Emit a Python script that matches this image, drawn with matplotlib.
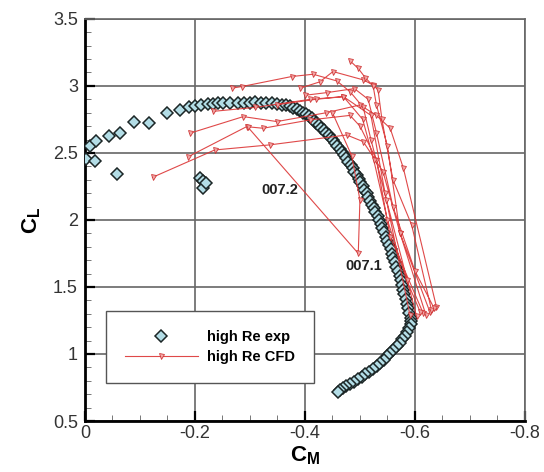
import numpy as np
import matplotlib.pyplot as plt
from matplotlib.ticker import MultipleLocator, FuncFormatter

plt.rcParams['font.family'] = ['Liberation Sans', 'DejaVu Sans']
plt.rcParams['axes.unicode_minus'] = False
plt.rcParams['mathtext.fontset'] = 'custom'
plt.rcParams['mathtext.bf'] = 'Liberation Sans:bold'
plt.rcParams['mathtext.rm'] = 'Liberation Sans'

# --- experiment (high Re exp) ---------------------------------------------
exp_cm = [
    -0.002, -0.009, -0.020, -0.018, -0.044, -0.064, -0.058, -0.090, -0.116,
    -0.150, -0.173, -0.189,
    -0.209, -0.215, -0.215, -0.221,
    -0.200, -0.212, -0.224, -0.233, -0.242, -0.251, -0.264, -0.279, -0.290,
    -0.300, -0.310, -0.320, -0.330, -0.340, -0.350, -0.358,
    -0.365, -0.372, -0.379, -0.385, -0.391, -0.397, -0.402, -0.407, -0.412,
    -0.417, -0.421, -0.426, -0.430, -0.435, -0.439, -0.443, -0.447, -0.451,
    -0.455, -0.459, -0.463, -0.467, -0.471, -0.475, -0.479, -0.483, -0.487,
    -0.490, -0.494, -0.498, -0.501, -0.505, -0.508, -0.512, -0.515, -0.519,
    -0.522, -0.525, -0.528, -0.532, -0.535, -0.538, -0.541, -0.544, -0.547,
    -0.550, -0.553, -0.556, -0.558, -0.561, -0.564, -0.566, -0.569, -0.572,
    -0.574, -0.577, -0.579, -0.581, -0.584, -0.586, -0.588, -0.590, -0.592,
    -0.593,
    -0.592, -0.589, -0.586, -0.582, -0.577, -0.572, -0.567, -0.561, -0.555,
    -0.549, -0.543, -0.537, -0.531, -0.524, -0.517, -0.510, -0.503, -0.496,
    -0.489, -0.482, -0.475, -0.469, -0.464, -0.460,
]
exp_cl = [
    2.457, 2.552, 2.587, 2.443, 2.627, 2.647, 2.343, 2.731, 2.726,
    2.796, 2.821, 2.841,
    2.311, 2.293, 2.237, 2.276,
    2.852, 2.860, 2.865, 2.868, 2.870, 2.872, 2.873, 2.874, 2.875,
    2.876, 2.877, 2.876, 2.874, 2.870, 2.865, 2.860,
    2.855, 2.848, 2.838, 2.828, 2.816, 2.801, 2.787, 2.772, 2.757,
    2.741, 2.724, 2.706, 2.689, 2.671, 2.652, 2.633, 2.613, 2.593,
    2.572, 2.550, 2.528, 2.506, 2.483, 2.459, 2.434, 2.409, 2.385,
    2.360, 2.334, 2.307, 2.281, 2.254, 2.227, 2.199, 2.171, 2.143,
    2.114, 2.086, 2.057, 2.027, 1.998, 1.968, 1.938, 1.907, 1.876,
    1.845, 1.813, 1.781, 1.749, 1.717, 1.684, 1.651, 1.618, 1.584,
    1.550, 1.516, 1.481, 1.446, 1.411, 1.376, 1.340, 1.305, 1.272,
    1.248,
    1.225, 1.195, 1.165, 1.138, 1.110, 1.083, 1.057, 1.031, 1.006,
    0.982, 0.958, 0.934, 0.912, 0.890, 0.868, 0.848, 0.828, 0.810,
    0.793, 0.777, 0.761, 0.745, 0.730, 0.718,
]

# --- CFD (high Re CFD), runs separated by NaN ------------------------------
nan = np.nan
cfd_cm = [
    -0.123, -0.236, -0.336, -0.476, -0.506, -0.542, -0.573, -0.627, nan,
    -0.188, -0.294, -0.324, -0.409, -0.482, -0.500, -0.530, -0.555, -0.615, nan,
    -0.191, -0.288, -0.349, -0.439, -0.500, -0.530, -0.555, -0.579, -0.639, nan,
    -0.267, -0.285, -0.376, -0.415, -0.458, -0.482, -0.506, -0.520, -0.545, -0.603, nan,
    -0.391, -0.427, -0.451, -0.506, -0.524, -0.533, -0.540, -0.560, -0.594, -0.630, nan,
    -0.482, -0.497, -0.510, -0.524, -0.530, -0.550, -0.573, -0.620, nan,
    -0.400, -0.440, -0.490, -0.515, -0.530, -0.560, -0.600, -0.635, nan,
    -0.350, -0.420, -0.470, -0.505, -0.525, -0.550, -0.585, -0.610, nan,
    -0.296, -0.497, -0.500, -0.485, -0.450, nan,
    -0.233, -0.310, -0.410, -0.470, -0.520, -0.548, -0.591,
]
cfd_cl = [
    2.318, 2.522, 2.560, 2.634, 2.584, 2.360, 1.900, 1.316, nan,
    2.472, 2.696, 2.684, 2.746, 2.780, 2.700, 2.450, 1.875, 1.304, nan,
    2.647, 2.771, 2.734, 2.800, 2.858, 2.780, 2.684, 2.386, 1.353, nan,
    2.983, 2.995, 3.070, 3.087, 3.037, 2.957, 2.840, 2.600, 2.200, 1.280, nan,
    2.983, 3.030, 3.107, 3.045, 3.007, 2.970, 2.750, 2.300, 1.963, 1.330, nan,
    3.187, 3.130, 3.060, 3.000, 2.858, 2.550, 1.900, 1.290, nan,
    2.930, 2.950, 2.980, 2.900, 2.650, 2.100, 1.620, 1.340, nan,
    2.860, 2.900, 2.920, 2.750, 2.450, 2.000, 1.550, 1.310, nan,
    2.694, 1.750, 2.150, 2.480, 2.800, nan,
    2.810, 2.840, 2.900, 2.920, 2.780, 2.149, 1.290,
]

fig = plt.figure(figsize=(5.44, 4.72), dpi=100)
ax = fig.add_axes([0.156, 0.108, 0.809, 0.852])

h_exp, = ax.plot(exp_cm, exp_cl, ls='none', marker='D', ms=6.2,
                 mfc='#b3dde6', mec='#1c2626', mew=1.1, zorder=3)
h_cfd, = ax.plot(cfd_cm, cfd_cl, color='#dc3535', lw=0.8, marker='v', ms=3.6,
                 mfc='#f2a6a6', mec='#cc2a2a', mew=0.6, zorder=4, alpha=0.9)

ax.text(-0.355, 2.224, '007.2', fontsize=10.5, fontweight='bold',
        ha='center', va='center', color='#222', zorder=5)
ax.text(-0.507, 1.653, '007.1', fontsize=10.5, fontweight='bold',
        ha='center', va='center', color='#222', zorder=5)

ax.set_xlim(0, -0.8)
ax.set_ylim(0.5, 3.5)
ax.xaxis.set_major_locator(MultipleLocator(0.2))
ax.xaxis.set_minor_locator(MultipleLocator(0.05))
ax.yaxis.set_major_locator(MultipleLocator(0.5))
ax.yaxis.set_minor_locator(MultipleLocator(0.1))
fmt = FuncFormatter(lambda v, p: '%g' % round(v, 3))
ax.xaxis.set_major_formatter(fmt)
ax.yaxis.set_major_formatter(fmt)
ax.tick_params(which='both', direction='in', top=False, right=False,
               labelsize=13, labelcolor='#333')
ax.tick_params(which='major', length=7, width=1.6)
ax.tick_params(which='minor', length=4.5, width=0.7, color='#777')
ax.tick_params(axis='x', pad=3)
ax.tick_params(axis='y', pad=5)

ax.grid(True, which='major', color='#666', lw=1.2)
ax.set_axisbelow(True)
for s in ['left', 'bottom']:
    ax.spines[s].set_linewidth(2.0)
    ax.spines[s].set_color('black')
for s in ['top', 'right']:
    ax.spines[s].set_linewidth(1.2)
    ax.spines[s].set_color('#666')

ax.set_xlabel(r'$\mathbf{C_M}$', fontsize=16)
ax.set_ylabel(r'$\mathbf{C_L}$', fontsize=16)
ax.xaxis.set_label_coords(0.5, -0.058)
ax.yaxis.set_label_coords(-0.095, 0.5)

leg = ax.legend([h_exp, h_cfd], ['high Re exp', 'high Re CFD'],
                loc='upper left', bbox_to_anchor=(0.048, 0.274),
                borderaxespad=0, fancybox=False, edgecolor='#555',
                framealpha=1, handlelength=5, handletextpad=0.6,
                borderpad=1.3, labelspacing=0.45, numpoints=1,
                prop={'weight': 'bold', 'size': 10.5})
leg.get_frame().set_linewidth(1.0)

fig.savefig('out.png', dpi=100)
